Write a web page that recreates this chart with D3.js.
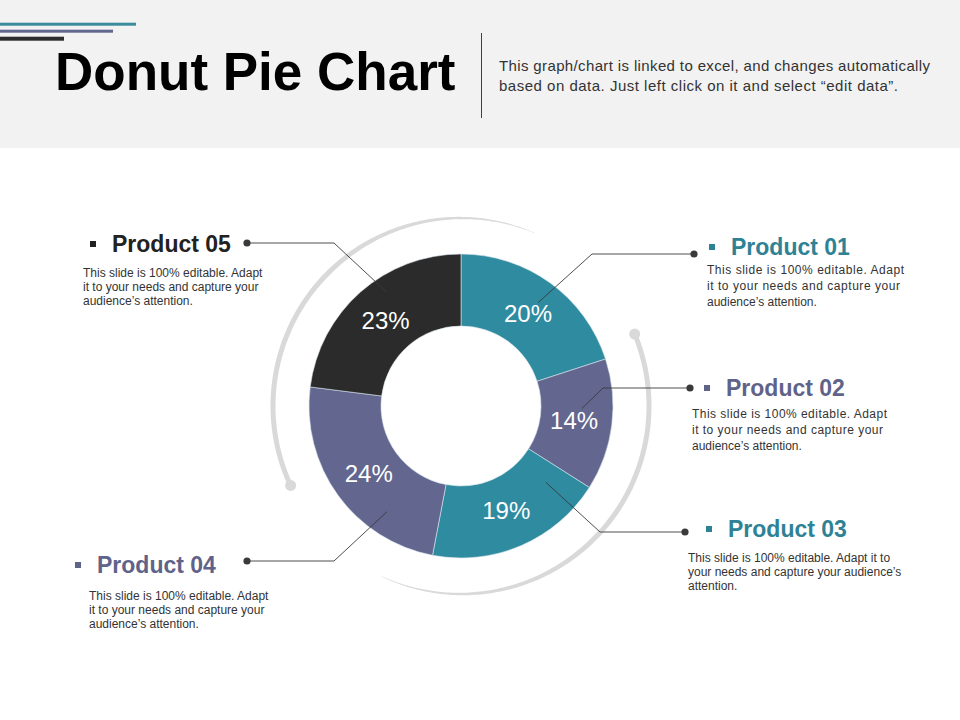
<!DOCTYPE html>
<html>
<head>
<meta charset="utf-8">
<script src="https://cdn.jsdelivr.net/npm/d3@7"></script>
<style>
  body { margin: 0; background: #fff; }
  svg { display: block; font-family: "Liberation Sans", Arial, sans-serif; }
</style>
</head>
<body>
<div id="chart"></div>
<script>
// chart values
var categories = ['Product 01', 'Product 02', 'Product 03', 'Product 04', 'Product 05'];
var shares = [20, 14, 19, 24, 23];
var descriptions = [
  ['This slide is 100% editable. Adapt', 'it to your needs and capture your', 'audience\u2019s attention.'],
  ['This slide is 100% editable. Adapt', 'it to your needs and capture your', 'audience\u2019s attention.'],
  ['This slide is 100% editable. Adapt it to', 'your needs and capture your audience\u2019s', 'attention.'],
  ['This slide is 100% editable. Adapt', 'it to your needs and capture your', 'audience\u2019s attention.'],
  ['This slide is 100% editable. Adapt', 'it to your needs and capture your', 'audience\u2019s attention.']
];
var titleText = 'Donut Pie Chart';
var subtitleLines = [
  'This graph/chart is linked to excel, and changes automatically',
  'based on data. Just left click on it and select \u201cedit data\u201d.'
];

// styles
var sliceColors = ['#2f8ba0', '#63678f', '#2f8ba0', '#63678f', '#2b2b2b'];
var headColors = ['#2e8295', '#5f6389', '#2e8295', '#5f6389', '#222222'];
var subtitleWidths = [431, 399];

// label layout (position of each callout block)
var labelLayout = [
  { bx: 709, hx: 731, hy: 255, tx: 707, ty: 274, lh: 16, jw: 197, dot: [694, 254], elbow: 592, at: 0.51, ar: 129 },
  { bx: 704, hx: 726, hy: 396, tx: 692, ty: 418, lh: 16, jw: 195, dot: [690, 388], elbow: 603, at: 0.38, ar: 121 },
  { bx: 706, hx: 728, hy: 537, tx: 688, ty: 562, lh: 14, jw: 0, dot: [685, 532], elbow: 600, at: 0.14, ar: 114 },
  { bx: 75, hx: 97, hy: 573, tx: 89, ty: 600, lh: 14, jw: 0, dot: [247, 561], elbow: 334, at: 0.28, ar: 129 },
  { bx: 90, hx: 112, hy: 252, tx: 83, ty: 277, lh: 14, jw: 0, dot: [247, 243], elbow: 334, at: 0.60, ar: 136 }
];

var width = 960, height = 720;
var cx = 461, cy = 406, outerR = 152, innerR = 80, ringR = 188;

var svg = d3.select('#chart').append('svg')
  .attr('width', width)
  .attr('height', height);

// HEADER
var header = svg.append('g');
header.append('rect')
  .attr('width', width)
  .attr('height', 148)
  .attr('fill', '#f2f2f2');

header.append('rect').attr('x', 0).attr('y', 22.7).attr('width', 136).attr('height', 3).attr('fill', '#3a8c9c');
header.append('rect').attr('x', 0).attr('y', 29.7).attr('width', 113).attr('height', 3).attr('fill', '#63678f');
header.append('rect').attr('x', 0).attr('y', 36.7).attr('width', 64).attr('height', 4).attr('fill', '#2b2b2b');

header.append('text')
  .attr('x', 55)
  .attr('y', 90)
  .attr('font-size', 53)
  .attr('font-weight', 'bold')
  .attr('fill', '#000')
  .text(titleText);

header.append('line')
  .attr('x1', 481.5).attr('x2', 481.5)
  .attr('y1', 33).attr('y2', 118)
  .attr('stroke', '#404040')
  .attr('stroke-width', 1);

header.selectAll('.sub')
  .data(subtitleLines)
  .enter().append('text')
  .attr('class', 'sub')
  .attr('x', 499)
  .attr('y', function (d, i) { return 71 + i * 20; })
  .attr('font-size', 15)
  .attr('fill', '#333')
  .attr('textLength', function (d, i) { return subtitleWidths[i]; })
  .attr('lengthAdjust', 'spacing')
  .text(function (d) { return d; });

// DONUT
var color = d3.scaleOrdinal().domain(categories).range(sliceColors);

var pie = d3.pie()
  .sort(null)
  .value(function (d) { return d.value; });

var arcs = pie(categories.map(function (c, i) { return { name: c, value: shares[i], idx: i }; }));

var arc = d3.arc().innerRadius(innerR).outerRadius(outerR);
var labelArc = d3.arc().innerRadius(114).outerRadius(114);

var donut = svg.append('g').attr('transform', translation(cx, cy));

// gray rings with a dot at one end and a fading tail at the other
var rings = [
  { a0: -115, a1: 23 },
  { a0: 67.5, a1: 205 }
];
rings.forEach(function (r) {
  donut.append('path')
    .attr('d', taperedArc(r.a0 * Math.PI / 180, r.a1 * Math.PI / 180, ringR, 5, 0.4))
    .attr('fill', '#d9d9d9');
  var a = r.a0 * Math.PI / 180;
  donut.append('circle')
    .attr('cx', ringR * Math.sin(a))
    .attr('cy', -ringR * Math.cos(a))
    .attr('r', 5.5)
    .attr('fill', '#d9d9d9');
});

donut.selectAll('.slice')
  .data(arcs)
  .enter().append('path')
  .attr('class', 'slice')
  .attr('d', arc)
  .attr('fill', function (d) { return color(d.data.name); })
  .attr('stroke', '#d8e6ec')
  .attr('stroke-width', 0.6);

// LEADER LINES
var leaders = svg.append('g');
arcs.forEach(function (d, i) {
  var L = labelLayout[i];
  var a = d.startAngle + (d.endAngle - d.startAngle) * L.at;
  var ex = cx + L.ar * Math.sin(a),
    ey = cy - L.ar * Math.cos(a);
  leaders.append('polyline')
    .attr('points', [L.dot, [L.elbow, L.dot[1]], [ex, ey]].map(function (p) { return p.join(','); }).join(' '))
    .attr('fill', 'none')
    .attr('stroke', '#3a3a3a')
    .attr('stroke-width', 0.9);
  leaders.append('circle')
    .attr('cx', L.dot[0])
    .attr('cy', L.dot[1])
    .attr('r', 3.6)
    .attr('fill', '#3a3a3a');
});

donut.selectAll('.pct')
  .data(arcs)
  .enter().append('text')
  .attr('class', 'pct')
  .attr('transform', function (d) { return translation.apply(null, labelArc.centroid(d)); })
  .attr('dy', '0.36em')
  .attr('text-anchor', 'middle')
  .attr('font-size', 24)
  .attr('fill', '#fff')
  .text(function (d) { return d.data.value + '%'; });

// CALLOUT TEXT
var callouts = svg.selectAll('.callout')
  .data(arcs)
  .enter().append('g')
  .attr('class', 'callout');

callouts.append('rect')
  .attr('x', function (d, i) { return labelLayout[i].bx; })
  .attr('y', function (d, i) { return labelLayout[i].hy - 11; })
  .attr('width', 6)
  .attr('height', 6)
  .attr('fill', function (d, i) { return headColors[i]; });

callouts.append('text')
  .attr('x', function (d, i) { return labelLayout[i].hx; })
  .attr('y', function (d, i) { return labelLayout[i].hy; })
  .attr('font-size', 23)
  .attr('font-weight', 'bold')
  .attr('fill', function (d, i) { return headColors[i]; })
  .text(function (d) { return d.data.name; });

callouts.each(function (d, i) {
  var L = labelLayout[i];
  d3.select(this).selectAll('.desc')
    .data(descriptions[i])
    .enter().append('text')
    .attr('class', 'desc')
    .attr('x', L.tx)
    .attr('y', function (t, j) { return L.ty + j * L.lh; })
    .attr('font-size', 12)
    .attr('fill', '#333')
    .each(function (t, j) {
      // first two lines of the right-hand blocks are justified
      if (L.jw && j < 2) {
        d3.select(this).attr('textLength', L.jw - j * 4).attr('lengthAdjust', 'spacing');
      }
    })
    .text(function (t) { return t; });
});

function taperedArc(a0, a1, r, w0, w1) {
  var n = 160;
  var pts = d3.range(n + 1).map(function (i) {
    var t = i / n;
    var w = t < 0.5 ? w0 : w0 + (w1 - w0) * Math.pow((t - 0.5) / 0.5, 1.3);
    return { a: a0 + (a1 - a0) * t, w: w };
  });
  return d3.areaRadial()
    .angle(function (d) { return d.a; })
    .innerRadius(function (d) { return r - d.w / 2; })
    .outerRadius(function (d) { return r + d.w / 2; })(pts);
}

function translation(x, y) {
  return 'translate(' + x + ',' + y + ')';
}
</script>
</body>
</html>
